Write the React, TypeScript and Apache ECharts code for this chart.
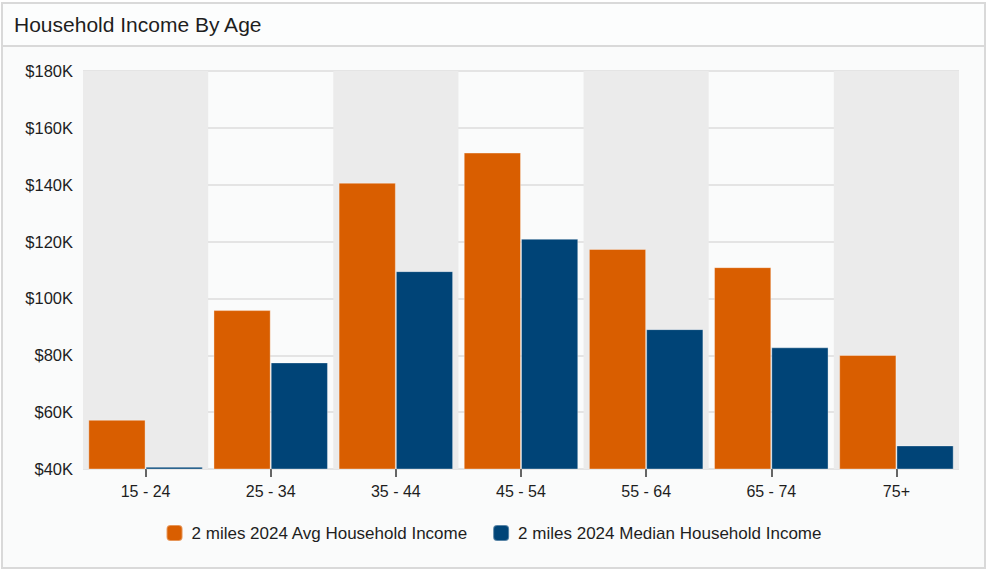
import React, { useEffect, useRef } from "react";
import * as echarts from "echarts";

const categories = ["15 - 24", "25 - 34", "35 - 44", "45 - 54", "55 - 64", "65 - 74", "75+"];
const avgIncome = [57300, 95900, 140700, 151300, 117400, 111000, 80100];
const medianIncome = [40800, 77500, 109600, 121000, 89200, 82800, 48300];
const seriesNames = ["2 miles 2024 Avg Household Income", "2 miles 2024 Median Household Income"];
const titleText = "Household Income By Age";

const FONT = "'Liberation Sans', Arial, Helvetica, sans-serif";

export default function App() {
  const ref = useRef<HTMLDivElement>(null);

  useEffect(() => {
    document.body.style.margin = "0";
    if (!ref.current) return;
    const chart = echarts.init(ref.current, undefined, { renderer: "svg" });
    chart.setOption({
      animation: false,
      textStyle: { fontFamily: FONT },
      title: {
        text: titleText,
        left: 9,
        top: 9,
        textStyle: { fontSize: 21, fontWeight: "normal", color: "#1e1e1e", fontFamily: FONT },
      },
      legend: {
        left: "center",
        top: 519,
        icon: "roundRect",
        itemWidth: 16,
        itemHeight: 16,
        itemGap: 24,
        textStyle: { fontSize: 17, color: "#1e1e1e", fontFamily: FONT, padding: [0, 0, 0, 4] },
        data: seriesNames,
      },
      grid: { left: 83, right: 28, top: 71, bottom: 102, containLabel: false },
      xAxis: {
        type: "category",
        data: categories,
        axisLine: { show: false },
        axisTick: { show: true, alignWithLabel: true, length: 8, lineStyle: { color: "#333", width: 1.5 } },
        axisLabel: { fontSize: 16, color: "#1e1e1e", margin: 14, fontFamily: FONT },
        splitArea: { show: true, areaStyle: { color: ["#ebebeb", "rgba(255,255,255,0)"] } },
        splitLine: { show: false },
      },
      yAxis: {
        type: "value",
        min: 40000,
        max: 180000,
        interval: 20000,
        axisLine: { show: false },
        axisTick: { show: false },
        axisLabel: {
          fontSize: 16.5,
          color: "#1e1e1e",
          margin: 10,
          fontFamily: FONT,
          formatter: (v: number) => `$${Math.round(v / 1000)}K`,
        },
        splitLine: { show: true, lineStyle: { color: "#dcdcdc", width: 1.5 } },
      },
      series: [
        {
          name: seriesNames[0],
          type: "bar",
          data: avgIncome,
          barGap: "0%",
          barCategoryGap: "8.5%",
          itemStyle: { color: "#d95e00", borderColor: "rgba(255,255,255,0.35)", borderWidth: 1 },
        },
        {
          name: seriesNames[1],
          type: "bar",
          data: medianIncome,
          barGap: "0%",
          barCategoryGap: "8.5%",
          itemStyle: { color: "#004477", borderColor: "rgba(255,255,255,0.35)", borderWidth: 1 },
        },
      ],
    });
    return () => chart.dispose();
  }, []);

  return (
    <div style={{ position: "relative", width: 987, height: 571, background: "#ffffff", overflow: "hidden" }}>
      <div
        style={{
          position: "absolute",
          left: 1,
          top: 2,
          width: 985,
          height: 567,
          boxSizing: "border-box",
          border: "2px solid #d9d9d9",
          background: "#fafbfb",
        }}
      />
      <div
        style={{
          position: "absolute",
          left: 3,
          top: 4,
          width: 981,
          height: 41,
          background: "#fcfdfd",
        }}
      />
      <div style={{ position: "absolute", left: 1, top: 45, width: 985, height: 2, background: "#d9d9d9" }} />
      <div ref={ref} style={{ position: "absolute", left: 0, top: 0, width: 987, height: 571 }} />
    </div>
  );
}
